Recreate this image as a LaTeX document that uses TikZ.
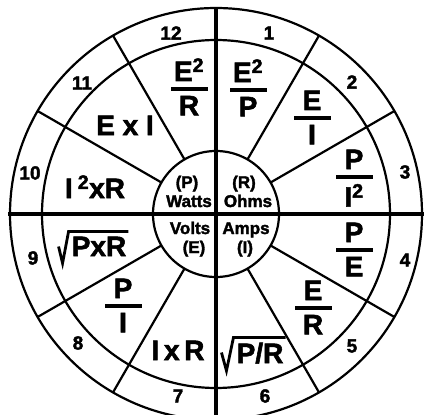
\documentclass[tikz,border=0pt]{standalone}
\usepackage{fontspec}
\setsansfont{Liberation Sans}[BoldFeatures={FakeBold=2}]
\usetikzlibrary{positioning, calc}

\begin{document}
\begin{tikzpicture}[x=1pt, y=-1pt, font=\sffamily\bfseries,
    ring/.style={line width=2.2pt},
    axis/.style={line width=3.2pt},
    num/.style={font=\sffamily\bfseries\fontsize{19}{19}\selectfont, inner sep=0pt},
    frm/.style={font=\sffamily\bfseries\fontsize{28}{30}\selectfont, inner sep=0pt},
    bar/.style={fill, minimum width=37pt, minimum height=3.2pt, inner sep=0pt},
    unit/.style={font=\sffamily\bfseries\fontsize{17}{17}\selectfont, inner sep=0pt, anchor=base},
    rad/.style={line width=2.8pt, line join=miter}]
    \useasboundingbox (0,0) rectangle (424,415);
    \coordinate (c) at (216,214);

    % Wheel
    \draw[ring] (c) circle (206pt);
    \draw[ring] (c) circle (174pt);
    \draw[ring] (c) circle (63pt);
    \foreach \a in {30,60,120,150,210,240,300,330}
        \draw[ring] ($(c)+(\a:63pt)$) -- ($(c)+(\a:206pt)$);
    \draw[axis] ($(c)+(0,-206)$) -- ($(c)+(0,206)$);
    \draw[axis] ($(c)+(-208,0)$) -- ($(c)+(208,0)$);

    % Centre quadrants
    \node[unit] at (187,188) {(P)};
    \node[unit] at (189,207) {Watts};
    \node[unit] at (244,188) {(R)};
    \node[unit] at (248,207) {Ohms};
    \node[unit] at (190,234) {Volts};
    \node[unit] at (194,253) {(E)};
    \node[unit] at (246,234) {Amps};
    \node[unit] at (245,253) {(I)};

    % Sector numbers
    \node[num] (n1) at (269,33) {1};
    \node[num] (n2) at (352,82) {2};
    \node[num] (n3) at (405,172) {3};
    \node[num] (n4) at (405,260) {4};
    \node[num] (n5) at (352,346) {5};
    \node[num] (n6) at (265,396) {6};
    \node[num] (n7) at (178,396) {7};
    \node[num] (n8) at (78,343) {8};
    \node[num] (n9) at (33,258) {9};
    \node[num] (n10) at (30,173) {10};
    \node[num] (n11) at (82,83) {11};
    \node[num] (n12) at (171,33) {12};

    % Fractions
    % 1: E^2/P
    \node[bar] (f1) at (248,90) {};
    \node[frm, above=6pt of f1] {E\textsuperscript{2}};
    \node[frm, below=5pt of f1] {P};
    % 2: E/I
    \node[bar] (f2) at (312,118) {};
    \node[frm, above=6pt of f2] {E};
    \node[frm, below=5pt of f2] {I};
    % 3: P/I^2
    \node[bar] (f3) at (354,177) {};
    \node[frm, above=6pt of f3] {P};
    \node[frm, below=5pt of f3] {I\textsuperscript{2}};
    % 4: P/E
    \node[bar] (f4) at (354,250) {};
    \node[frm, above=6pt of f4] {P};
    \node[frm, below=5pt of f4] {E};
    % 5: E/R
    \node[bar] (f5) at (313,308) {};
    \node[frm, above=6pt of f5] {E};
    \node[frm, below=5pt of f5] {R};
    % 8: P/I
    \node[bar] (f8) at (123,306) {};
    \node[frm, above=6pt of f8] {P};
    \node[frm, below=5pt of f8] {I};
    % 12: E^2/R
    \node[bar] (f12) at (189,89) {};
    \node[frm, above=6pt of f12] {E\textsuperscript{2}};
    \node[frm, below=5pt of f12] {R};

    % Products
    \node[frm, anchor=base] (p11) at (125,135) {E x I};
    \node[frm, anchor=base] (p10) at (95,198) {I\hspace{5pt}\textsuperscript{2}xR};
    \node[frm, anchor=base] (p7) at (178,360) {I\,x\,R};

    % Roots
    \node[frm, anchor=base] (s9) at (99,256) {PxR};
    \draw[rad] ($(s9.north west)+(-13,10)$) -- ($(s9.south west)+(-9,7)$)
        -- ($(s9.north west)+(-3,-5)$) -- ($(s9.north east)+(2,-5)$);
    \node[frm, anchor=base] (s6) at (260,363) {P/R};
    \draw[rad] ($(s6.north west)+(-15,10)$) -- ($(s6.south west)+(-10,7)$)
        -- ($(s6.north west)+(-3,-5)$) -- ($(s6.north east)+(2,-5)$);

\end{tikzpicture}
\end{document}
